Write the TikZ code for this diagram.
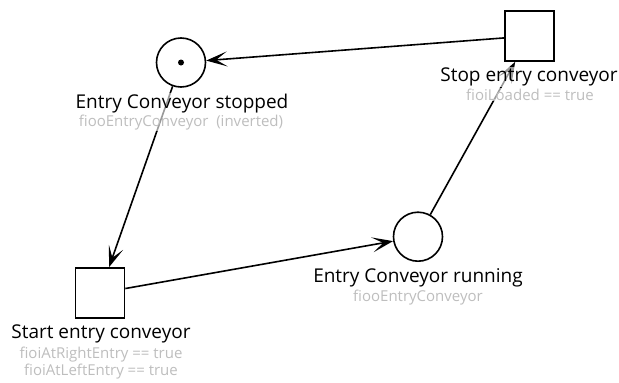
\documentclass[tikz,border=0pt]{standalone}
\usepackage{fontspec}
\setmainfont{Open Sans}
\usetikzlibrary{arrows.meta}
\definecolor{guardgray}{RGB}{190,190,190}
\begin{document}
\begin{tikzpicture}[x=1pt,y=-1pt,
  place/.style={circle,draw,line width=1.6pt,minimum size=49pt,inner sep=0pt,fill=white},
  trans/.style={rectangle,draw,line width=1.6pt,minimum width=49pt,minimum height=50pt,inner sep=0pt,fill=white},
  token/.style={circle,fill=black,inner sep=0pt,minimum size=6pt},
  arc/.style={line width=1.6pt,-{Stealth[length=21pt,width=15pt,inset=11pt]}},
  title/.style={anchor=base,inner sep=1pt,font=\fontsize{19}{22}\selectfont,fill=white,fill opacity=0.6,text opacity=1},
  guard/.style={anchor=base,inner sep=1pt,font=\fontsize{15}{18}\selectfont,text=guardgray,fill=white,fill opacity=0.6,text opacity=1}
]
\useasboundingbox (0,0) rectangle (619,383);

% places and transitions
\node[place] (stopped) at (181,62.5) {};
\node[token] (tok) at (stopped.center) {};
\node[place] (running) at (418,236.7) {};
\node[trans] (stop) at (529.5,36) {};
\node[trans] (start) at (100,293) {};

% arcs
\draw[arc] (stop) -- (stopped);
\draw[arc] (stopped) -- (start);
\draw[arc] (start) -- (running);
\draw[arc] (running) -- (stop);

% labels
\node[title] (lstopped) at (182,108.3) {Entry Conveyor stopped};
\node[guard] (gstopped) at (181,126.5) {fiooEntryConveyor\ \ (inverted)};
\node[title] (lstop) at (529,81.7) {Stop entry conveyor};
\node[guard] (gstop) at (530,100) {fioiLoaded == true};
\node[title] (lstart) at (101,338) {Start entry conveyor};
\node[guard] (gstart1) at (101,358) {fioiAtRightEntry == true};
\node[guard] (gstart2) at (101,375.5) {fioiAtLeftEntry == true};
\node[title] (lrunning) at (418,282.7) {Entry Conveyor running};
\node[guard] (grunning) at (418,301.5) {fiooEntryConveyor};
\end{tikzpicture}
\end{document}
